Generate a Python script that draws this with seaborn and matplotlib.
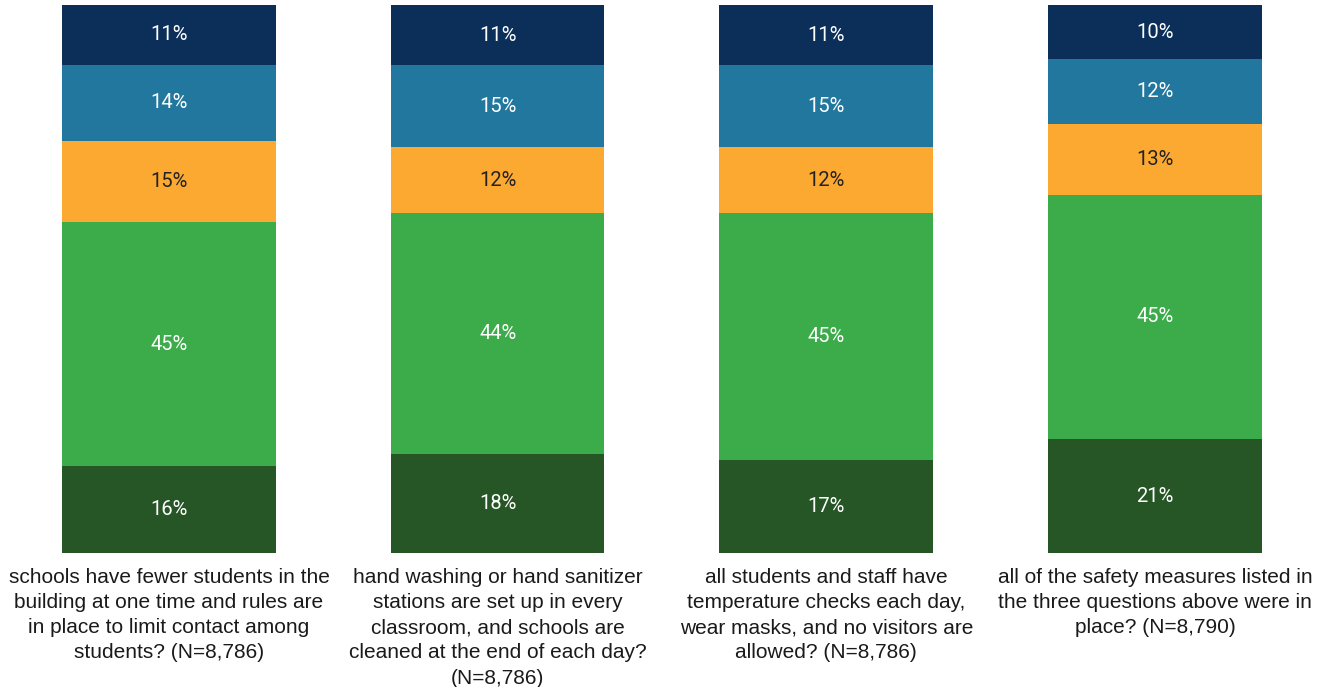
import matplotlib
matplotlib.use("Agg")
import matplotlib.pyplot as plt
import seaborn as sns
import numpy as np
import pandas as pd

categories = [
    "schools have fewer students in the\nbuilding at one time and rules are\nin place to limit contact among\nstudents? (N=8,786)",
    "hand washing or hand sanitizer\nstations are set up in every\nclassroom, and schools are\ncleaned at the end of each day?\n(N=8,786)",
    "all students and staff have\ntemperature checks each day,\nwear masks, and no visitors are\nallowed? (N=8,786)",
    "all of the safety measures listed in\nthe three questions above were in\nplace? (N=8,790)",
]
# segments from bottom to top
seg1 = [16, 18, 17, 21]   # dark green
seg2 = [45, 44, 45, 45]   # green
seg3 = [15, 12, 12, 13]   # orange
seg4 = [14, 15, 15, 12]   # blue
seg5 = [11, 11, 11, 10]   # navy

segments = [seg1, seg2, seg3, seg4, seg5]
colors = ["#275626", "#3cab4a", "#fca932", "#22779e", "#0b2f59"]
text_colors = ["white", "white", "#222222", "white", "white"]

sns.set_theme(style="white")
plt.rcParams["font.family"] = ["Liberation Sans", "DejaVu Sans"]

fig = plt.figure(figsize=(13.21, 6.87), dpi=100)
ax = fig.add_axes([0.0, (687-553)/687, 1.0, 548/687])

vals = np.array(segments, dtype=float)
totals = vals.sum(axis=0)
norm = vals / totals * 100
cum = np.cumsum(norm, axis=0)
xs = list(range(len(categories)))

# draw from top cumulative downwards so lower segments overlay
for i in range(len(segments) - 1, -1, -1):
    df = pd.DataFrame({"x": xs, "y": cum[i]})
    sns.barplot(data=df, x="x", y="y", color=colors[i], width=0.65,
                saturation=1, ax=ax, order=xs, linewidth=0)

for i in range(len(segments)):
    for j in xs:
        ycen = cum[i][j] - norm[i][j] / 2
        ax.text(j, ycen, f"{segments[i][j]}%", ha="center", va="center",
                color=text_colors[i], fontsize=14.5, family="Roboto")

ax.set_xlim(-0.514, 3.505)
ax.set_ylim(0, 100)
ax.set_xticks(xs)
ax.set_xticklabels(categories, fontsize=15, color="#1a1a1a", linespacing=1.42)
ax.tick_params(axis="x", length=0, pad=10.5)
ax.set_yticks([])
ax.set_xlabel("")
ax.set_ylabel("")
for s in ax.spines.values():
    s.set_visible(False)

fig.savefig("out.png", dpi=100)
